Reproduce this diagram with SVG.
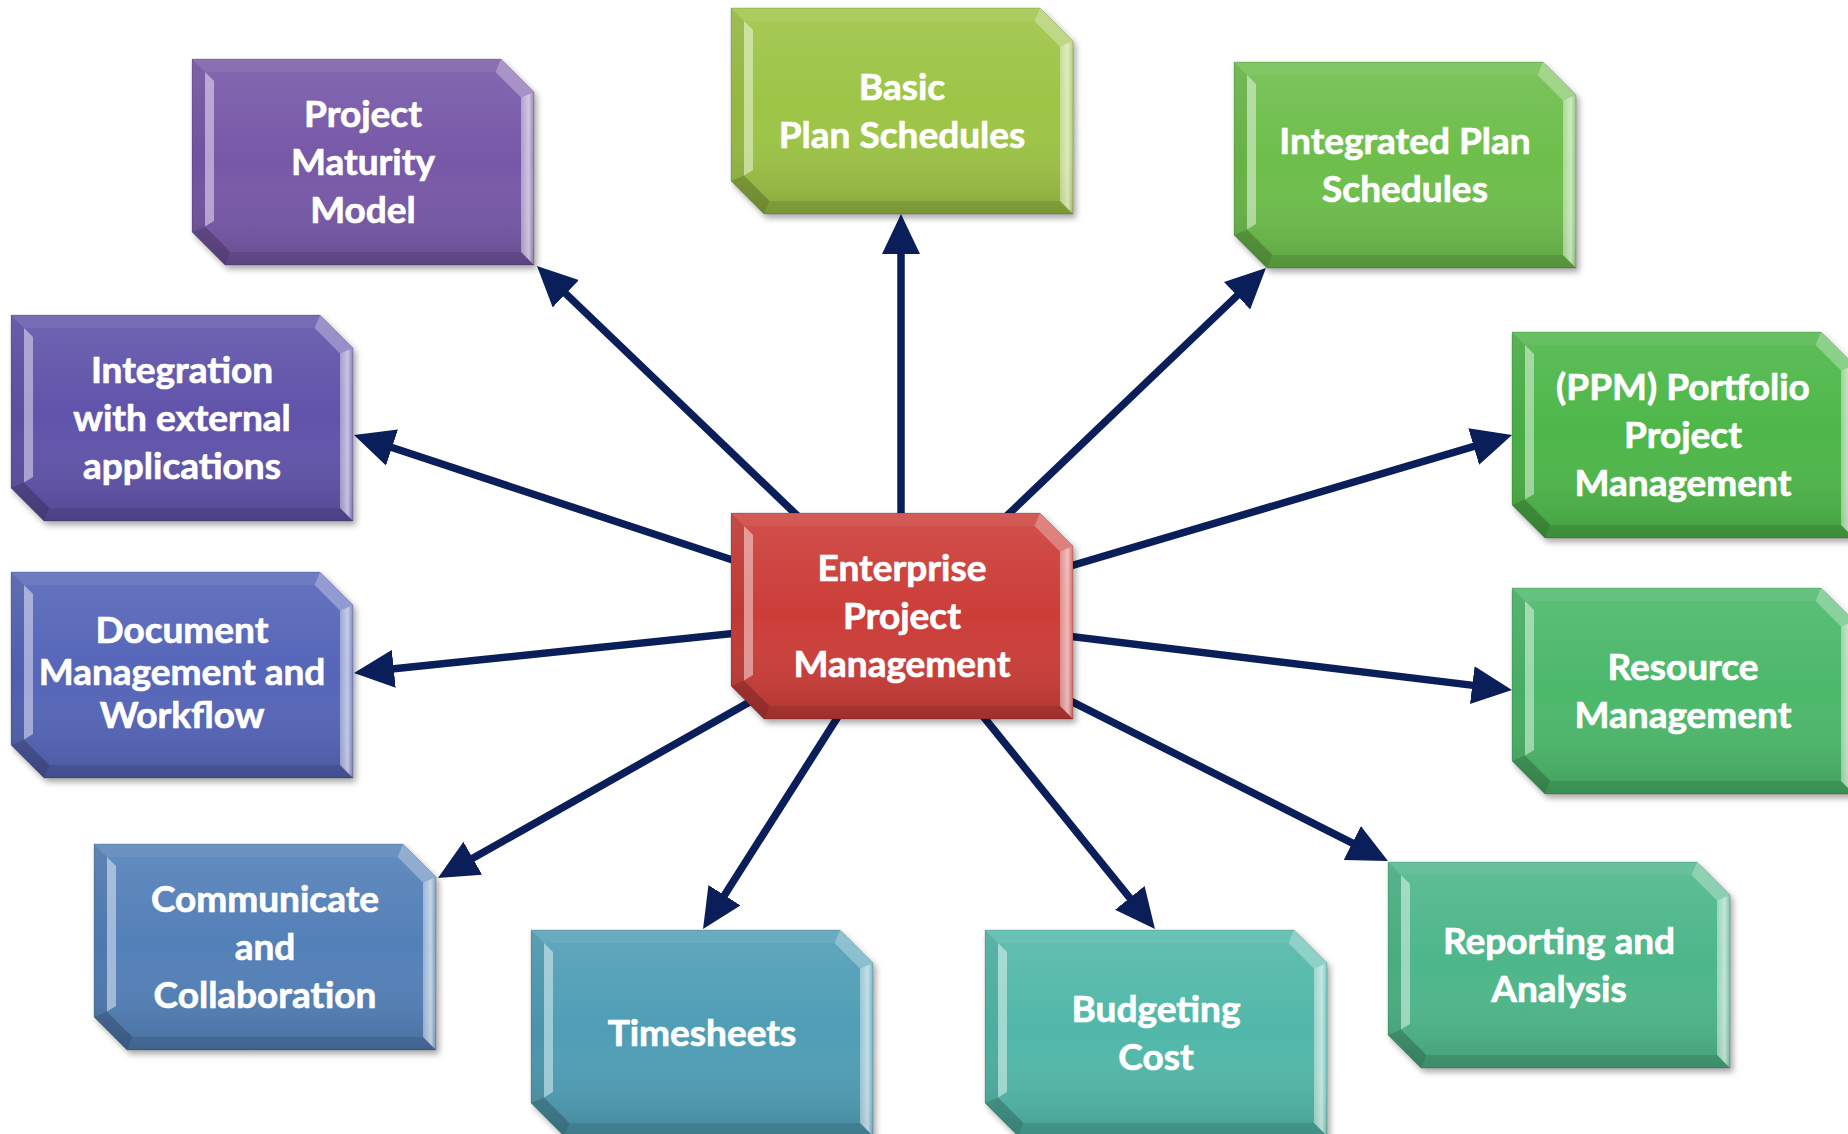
<svg xmlns="http://www.w3.org/2000/svg" xmlns:xlink="http://www.w3.org/1999/xlink" width="1848" height="1134" viewBox="0 0 1848 1134">
<style>
  .lbl { font-family: Lato, "Open Sans", "Liberation Sans", sans-serif; font-weight: 700; font-size: 37px; fill: #ffffff; stroke: #ffffff; stroke-width: 0.7; text-anchor: middle; }
  .conn { stroke: #0A1E5A; stroke-width: 7.5; fill: none; marker-end: url(#ah); }
  .base { filter: url(#shadow); }
</style>
<defs>
  <filter id="shadow" x="-10%" y="-10%" width="125%" height="130%">
    <feDropShadow dx="3" dy="4" stdDeviation="3" flood-color="#000" flood-opacity="0.35"/>
  </filter>
  <marker id="ah" markerUnits="userSpaceOnUse" markerWidth="40" markerHeight="38" viewBox="0 0 40 38" refX="24" refY="19" orient="auto">
    <path d="M0,0 L40,19 L0,38 Z" fill="#0A1E5A"/>
  </marker>
  <linearGradient id="shade" x1="0" y1="0" x2="0" y2="1">
    <stop offset="0" stop-color="#ffffff" stop-opacity="0.10"/>
    <stop offset="0.5" stop-color="#ffffff" stop-opacity="0"/>
    <stop offset="1" stop-color="#000000" stop-opacity="0.14"/>
  </linearGradient>
  <linearGradient id="rface" x1="0" y1="0" x2="1" y2="0">
    <stop offset="0" stop-color="#ffffff" stop-opacity="0.4"/>
    <stop offset="0.6" stop-color="#ffffff" stop-opacity="0.65"/>
    <stop offset="1" stop-color="#ffffff" stop-opacity="0.2"/>
  </linearGradient>
  <path id="box" d="M0,0 H309 L342,33 V206 H33 L0,173 Z"/>
  <g id="bevel">
    <use xlink:href="#box" href="#box" fill="url(#shade)"/>
    <polygon points="0,0 309,0 303.6,13 13,13" fill="#ffffff" fill-opacity="0.06"/>
    <polygon points="309,0 342,33 329,38.4 303.6,13" fill="#ffffff" fill-opacity="0.3"/>
    <polygon points="342,33 342,206 329,193 329,38.4" fill="url(#rface)"/>
    <polygon points="342,206 33,206 38.4,193 329,193" fill="#000000" fill-opacity="0.1"/>
    <polygon points="33,206 0,173 13,167.6 38.4,193" fill="#000000" fill-opacity="0.2"/>
    <polygon points="0,173 0,0 13,13 13,167.6" fill="#000000" fill-opacity="0.06"/>
    <polygon points="13,13 22,22 22,162 13,167.6" fill="#ffffff" fill-opacity="0.45"/>
    <use xlink:href="#box" href="#box" fill="none" stroke="#000000" stroke-opacity="0.15" stroke-width="1"/>
  </g>
</defs>

<rect width="1848" height="1134" fill="#ffffff"/>

<g id="connectors">
  <line class="conn" x1="902" y1="616" x2="548.5" y2="277.1"/>
  <line class="conn" x1="901" y1="616" x2="901" y2="230"/>
  <line class="conn" x1="902" y1="616" x2="1254.4" y2="279.1"/>
  <line class="conn" x1="902" y1="616" x2="369.2" y2="440"/>
  <line class="conn" x1="902" y1="616" x2="1496.7" y2="439.6"/>
  <line class="conn" x1="902" y1="616" x2="369.9" y2="671.3"/>
  <line class="conn" x1="902" y1="616" x2="1496.1" y2="688.1"/>
  <line class="conn" x1="902" y1="616" x2="451.9" y2="870.1"/>
  <line class="conn" x1="902" y1="616" x2="711.6" y2="915.5"/>
  <line class="conn" x1="902" y1="616" x2="1144.9" y2="916.6"/>
  <line class="conn" x1="902" y1="616" x2="1373.7" y2="853.8"/>
</g>

<g id="node-maturity" transform="translate(192,59)">
  <use class="base" xlink:href="#box" href="#box" fill="#7759A8"/>
  <use xlink:href="#bevel" href="#bevel"/>
  <text class="lbl" x="171" y="68">Project</text>
  <text class="lbl" x="171" y="116">Maturity</text>
  <text class="lbl" x="171" y="164">Model</text>
</g>

<g id="node-basic" transform="translate(731,8)">
  <use class="base" xlink:href="#box" href="#box" fill="#9DC445"/>
  <use xlink:href="#bevel" href="#bevel"/>
  <text class="lbl" x="171" y="92">Basic</text>
  <text class="lbl" x="171" y="140">Plan Schedules</text>
</g>

<g id="node-integrated" transform="translate(1234,62)">
  <use class="base" xlink:href="#box" href="#box" fill="#6DBE4B"/>
  <use xlink:href="#bevel" href="#bevel"/>
  <text class="lbl" x="171" y="92">Integrated Plan</text>
  <text class="lbl" x="171" y="140">Schedules</text>
</g>

<g id="node-integration" transform="translate(11,315)">
  <use class="base" xlink:href="#box" href="#box" fill="#6152AA"/>
  <use xlink:href="#bevel" href="#bevel"/>
  <text class="lbl" x="171" y="68">Integration</text>
  <text class="lbl" x="171" y="116">with external</text>
  <text class="lbl" x="171" y="164">applications</text>
</g>

<g id="node-ppm" transform="translate(1512,332)">
  <use class="base" xlink:href="#box" href="#box" fill="#4EB749"/>
  <use xlink:href="#bevel" href="#bevel"/>
  <text class="lbl" x="171" y="68">(PPM) Portfolio</text>
  <text class="lbl" x="171" y="116">Project</text>
  <text class="lbl" x="171" y="164">Management</text>
</g>

<g id="node-document" transform="translate(11,572)">
  <use class="base" xlink:href="#box" href="#box" fill="#5465B8"/>
  <use xlink:href="#bevel" href="#bevel"/>
  <text class="lbl" x="171" y="71">Document</text>
  <text class="lbl" x="171" y="113">Management and</text>
  <text class="lbl" x="171" y="156">Workflow</text>
</g>

<g id="node-resource" transform="translate(1512,588)">
  <use class="base" xlink:href="#box" href="#box" fill="#4BB86B"/>
  <use xlink:href="#bevel" href="#bevel"/>
  <text class="lbl" x="171" y="92">Resource</text>
  <text class="lbl" x="171" y="140">Management</text>
</g>

<g id="node-communicate" transform="translate(94,844)">
  <use class="base" xlink:href="#box" href="#box" fill="#5380B8"/>
  <use xlink:href="#bevel" href="#bevel"/>
  <text class="lbl" x="171" y="68">Communicate</text>
  <text class="lbl" x="171" y="116">and</text>
  <text class="lbl" x="171" y="164">Collaboration</text>
</g>

<g id="node-reporting" transform="translate(1388,862)">
  <use class="base" xlink:href="#box" href="#box" fill="#4DB789"/>
  <use xlink:href="#bevel" href="#bevel"/>
  <text class="lbl" x="171" y="92">Reporting and</text>
  <text class="lbl" x="171" y="140">Analysis</text>
</g>

<g id="node-timesheets" transform="translate(531,930)">
  <use class="base" xlink:href="#box" href="#box" fill="#509EB6"/>
  <use xlink:href="#bevel" href="#bevel"/>
  <text class="lbl" x="171" y="116">Timesheets</text>
</g>

<g id="node-budgeting" transform="translate(985,930)">
  <use class="base" xlink:href="#box" href="#box" fill="#51B8A9"/>
  <use xlink:href="#bevel" href="#bevel"/>
  <text class="lbl" x="171" y="92">Budgeting</text>
  <text class="lbl" x="171" y="140">Cost</text>
</g>

<g id="node-center" transform="translate(731,513)">
  <use class="base" xlink:href="#box" href="#box" fill="#CC3C39"/>
  <use xlink:href="#bevel" href="#bevel"/>
  <text class="lbl" x="171" y="68">Enterprise</text>
  <text class="lbl" x="171" y="116">Project</text>
  <text class="lbl" x="171" y="164">Management</text>
</g>
</svg>
